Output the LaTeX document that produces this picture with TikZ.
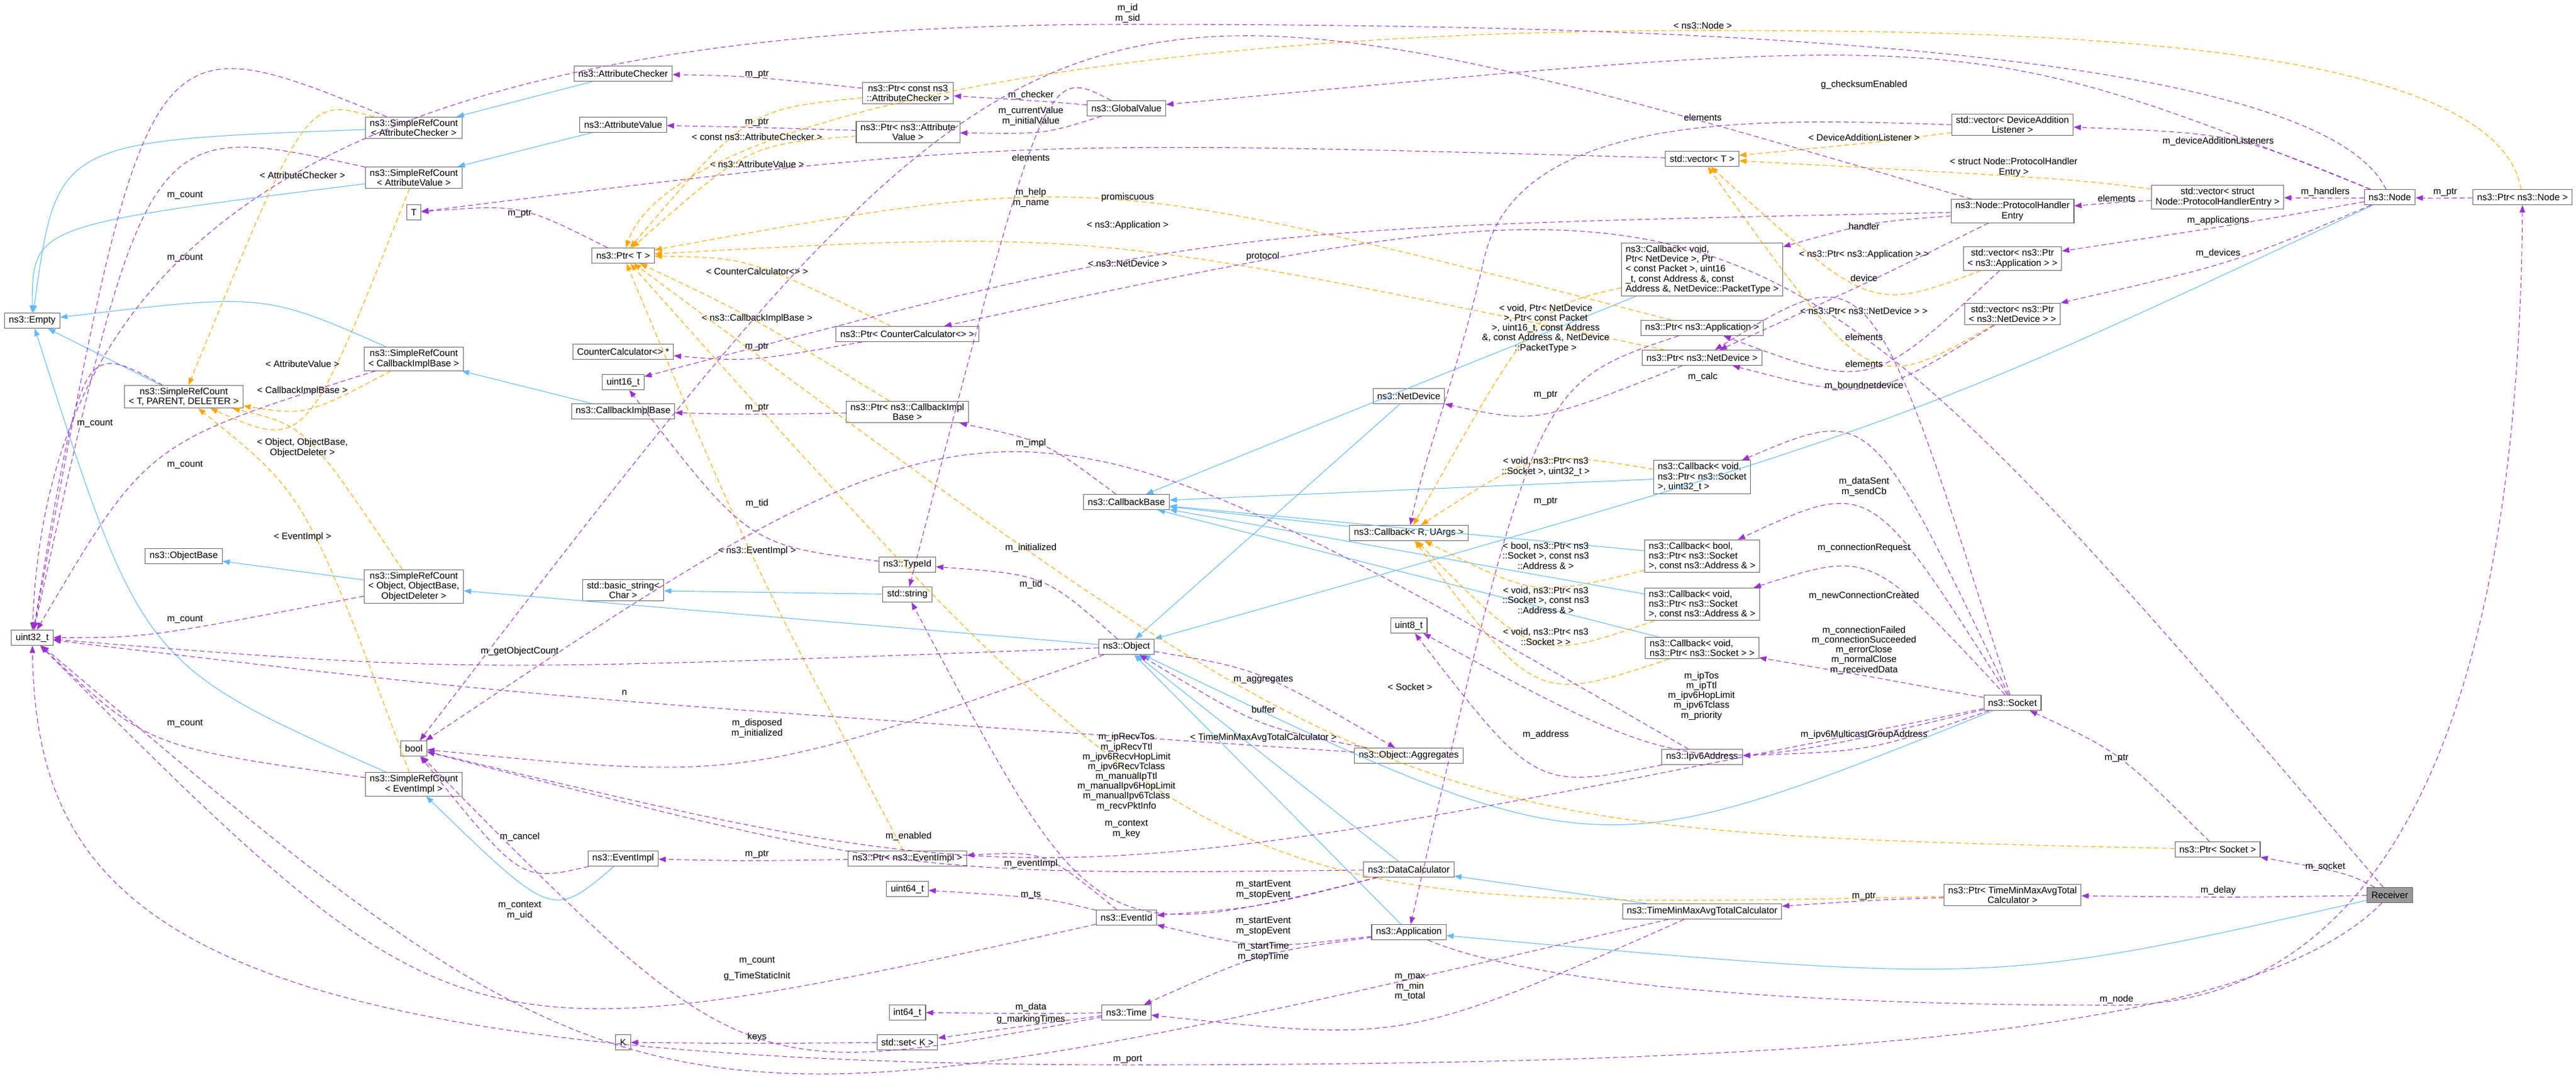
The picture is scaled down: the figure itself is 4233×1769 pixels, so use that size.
\documentclass[tikz,border=0pt]{standalone}
\usepackage{fontspec}
\setmainfont{Liberation Sans}
\usetikzlibrary{arrows.meta,calc}

\definecolor{inhblue}{HTML}{63B8FF}
\definecolor{usepurple}{HTML}{9A32CD}
\definecolor{tmplorange}{HTML}{FFA500}

\tikzset{
  cls/.style={draw=black!60,fill=white,line width=0.3pt,inner xsep=0.07cm,inner ysep=0.04cm,
    minimum height=0.25cm,align=center,font=\fontsize{4.35}{4.6}\selectfont},
  clsl/.style={cls,align=left},
  lbl/.style={anchor=south,inner sep=0.6pt,align=center,font=\fontsize{4.35}{4.6}\selectfont},
  inh/.style={draw=inhblue,line width=0.3pt,-{Triangle[length=0.12cm,width=0.09cm]}},
  use/.style={draw=usepurple,line width=0.3pt,dash pattern=on 0.08cm off 0.05cm,
    -{Triangle[length=0.12cm,width=0.09cm]}},
  tmpl/.style={use,draw=tmplorange},
}
% edge passing through the label point
\newcommand{\relm}[6]{\draw[#1] (#2) .. controls ($2*(#4,#5)-0.5*(#2)-0.5*(#3)$) .. (#3);
  \node[lbl] at (#4,#5) {#6};}
\newcommand{\inhv}[4]{\draw[inh] (#1) .. controls ($2*(#3,#4)-0.5*(#1)-0.5*(#2)$) .. (#2);}

\begin{document}
\begin{tikzpicture}[x=0.01cm,y=-0.01cm]
  \useasboundingbox (0,0) rectangle (4233,1769);

  % column 1-2
  \node[cls] (empty) at (53,527) {ns3::Empty};
  \node[cls] (u32) at (53,1048) {uint32\_t};
  \node[cls] (srctpd) at (302,652) {ns3::SimpleRefCount\\< T, PARENT, DELETER >};
  \node[cls] (objbase) at (302,914) {ns3::ObjectBase};
  % column 3
  \node[cls] (srcac) at (680,210) {ns3::SimpleRefCount\\< AttributeChecker >};
  \node[cls] (srcav) at (680,292) {ns3::SimpleRefCount\\< AttributeValue >};
  \node[cls] (tt) at (680,349) {T};
  \node[cls] (srccib) at (680,590) {ns3::SimpleRefCount\\< CallbackImplBase >};
  \node[cls] (srcobj) at (680,964) {ns3::SimpleRefCount\\< Object, ObjectBase,\\ObjectDeleter >};
  \node[cls] (bool) at (680,1230) {bool};
  \node[cls] (srcei) at (680,1289) {ns3::SimpleRefCount\\< EventImpl >};
  % column 4
  \node[cls] (ac) at (1024,121) {ns3::AttributeChecker};
  \node[cls] (av) at (1024,205) {ns3::AttributeValue};
  \node[cls] (pt) at (1024,420) {ns3::Ptr< T >};
  \node[cls] (cc) at (1024,578) {CounterCalculator<> *};
  \node[cls] (u16) at (1024,628) {uint16\_t};
  \node[cls] (cib) at (1024,676) {ns3::CallbackImplBase};
  \node[cls] (bstr) at (1024,970) {std::basic\_string<\\Char >};
  \node[cls] (ei) at (1024,1411) {ns3::EventImpl};
  \node[cls] (kk) at (1024,1713) {K};
  % column 5
  \node[cls] (pac) at (1492,153) {ns3::Ptr< const ns3\\::AttributeChecker >};
  \node[cls] (pav) at (1492,217) {ns3::Ptr< ns3::Attribute\\Value >};
  \node[cls] (pcc) at (1491,549) {ns3::Ptr< CounterCalculator<> >};
  \node[cls] (pcib) at (1491,677) {ns3::Ptr< ns3::CallbackImpl\\Base >};
  \node[cls] (typeid) at (1491,928) {ns3::TypeId};
  \node[cls] (str) at (1491,977) {std::string};
  \node[cls] (pei) at (1491,1411) {ns3::Ptr< ns3::EventImpl >};
  \node[cls] (u64) at (1491,1461) {uint64\_t};
  \node[cls] (i64) at (1491,1664) {int64\_t};
  \node[cls] (set) at (1491,1713) {std::set< K >};
  % column 6
  \node[cls] (gv) at (1851,178) {ns3::GlobalValue};
  \node[cls] (cbase) at (1851,825) {ns3::CallbackBase};
  \node[cls] (obj) at (1851,1063) {ns3::Object};
  \node[cls] (evid) at (1851,1508) {ns3::EventId};
  \node[cls] (time) at (1851,1664) {ns3::Time};
  % column 7
  \node[cls] (nd) at (2315,651) {ns3::NetDevice};
  \node[cls] (cru) at (2315,876) {ns3::Callback< R, UArgs >};
  \node[cls] (u8) at (2315,1028) {uint8\_t};
  \node[cls] (agg) at (2315,1242) {ns3::Object::Aggregates};
  \node[cls] (dc) at (2315,1429) {ns3::DataCalculator};
  \node[cls] (app) at (2315,1532) {ns3::Application};
  % column 8
  \node[cls] (vt) at (2797,261) {std::vector< T >};
  \node[clsl] (cbnd) at (2797,443) {ns3::Callback< void,\\ Ptr< NetDevice >, Ptr\\< const Packet >, uint16\\\_t, const Address \&, const\\ Address \&, NetDevice::PacketType >};
  \node[cls] (papp) at (2797,539) {ns3::Ptr< ns3::Application >};
  \node[cls] (pnd) at (2797,588) {ns3::Ptr< ns3::NetDevice >};
  \node[clsl] (cbsu) at (2797,784) {ns3::Callback< void,\\ ns3::Ptr< ns3::Socket\\ >, uint32\_t >};
  \node[clsl] (cbbool) at (2797,914) {ns3::Callback< bool,\\ ns3::Ptr< ns3::Socket\\ >, const ns3::Address \& >};
  \node[clsl] (cbva) at (2797,993) {ns3::Callback< void,\\ ns3::Ptr< ns3::Socket\\ >, const ns3::Address \& >};
  \node[clsl] (cbvs) at (2797,1065) {ns3::Callback< void,\\ ns3::Ptr< ns3::Socket > >};
  \node[cls] (ipv6) at (2797,1244) {ns3::Ipv6Address};
  \node[cls] (tmm) at (2797,1498) {ns3::TimeMinMaxAvgTotalCalculator};
  % columns 9-12
  \node[cls] (vdal) at (3307,205) {std::vector< DeviceAddition\\Listener >};
  \node[cls] (phe) at (3307,347) {ns3::Node::ProtocolHandler\\Entry};
  \node[cls] (vpapp) at (3307,425) {std::vector< ns3::Ptr\\< ns3::Application > >};
  \node[cls] (vpnd) at (3307,516) {std::vector< ns3::Ptr\\< ns3::NetDevice > >};
  \node[cls] (socket) at (3307,1155) {ns3::Socket};
  \node[cls] (ptmm) at (3307,1471) {ns3::Ptr< TimeMinMaxAvgTotal\\Calculator >};
  \node[cls] (vphe) at (3644,324) {std::vector< struct\\ Node::ProtocolHandlerEntry >};
  \node[cls] (psock) at (3644,1396) {ns3::Ptr< Socket >};
  \node[cls] (node) at (3927,324) {ns3::Node};
  \node[cls,fill=black!40] (recv) at (3927,1471) {Receiver};
  \node[cls] (pnode) at (4145,324) {ns3::Ptr< ns3::Node >};

  % inheritance
  \inhv{srcac}{empty}{230}{300}
  \inhv{srcav}{empty}{210}{390}
  \inhv{srccib}{empty}{400}{520}
  \draw[inh] (srctpd) -- (empty);
  \inhv{srcei}{empty}{300}{1000}
  \draw[inh] (ac) -- (srcac);
  \draw[inh] (av) -- (srcav);
  \draw[inh] (cib) -- (srccib);
  \draw[inh] (srcobj) -- (objbase);
  \draw[inh] (obj) -- (srcobj);
  \draw[inh] (str) -- (bstr);
  \inhv{ei}{srcei}{880}{1430}
  \draw[inh] (nd) -- (obj);
  \draw[inh] (app) -- (obj);
  \draw[inh] (dc) -- (obj);
  \inhv{node}{obj}{3000}{700}
  \inhv{socket}{obj}{2600}{1270}
  \draw[inh] (tmm) -- (dc);
  \inhv{recv}{app}{3200}{1560}
  \draw[inh] (cbnd) -- (cbase);
  \draw[inh] (cru) -- (cbase);
  \draw[inh] (cbsu) -- (cbase);
  \draw[inh] (cbbool) -- (cbase);
  \draw[inh] (cbva) -- (cbase);
  \draw[inh] (cbvs) -- (cbase);

  % template instances
  \relm{tmpl}{srcac}{srctpd}{497}{296}{< AttributeChecker >}
  \relm{tmpl}{srcav}{srctpd}{497}{606}{< AttributeValue >}
  \relm{tmpl}{srccib}{srctpd}{497}{652}{< CallbackImplBase >}
  \relm{tmpl}{srcobj}{srctpd}{497}{754}{< Object, ObjectBase,\\ObjectDeleter >}
  \relm{tmpl}{srcei}{srctpd}{497}{892}{< EventImpl >}
  \relm{tmpl}{pac}{pt}{1244}{233}{< const ns3::AttributeChecker >}
  \relm{tmpl}{pav}{pt}{1244}{278}{< ns3::AttributeValue >}
  \relm{tmpl}{pcc}{pt}{1244}{454}{< CounterCalculator<> >}
  \relm{tmpl}{pcib}{pt}{1244}{533}{< ns3::CallbackImplBase >}
  \relm{tmpl}{pei}{pt}{1244}{915}{< ns3::EventImpl >}
  \draw[tmpl] (pnode) .. controls (4100,60) and (3300,50) .. (2798,50) .. controls (1800,50) and (1100,200) .. (pt);
  \node[lbl] at (2798,50) {< ns3::Node >};
  \relm{tmpl}{papp}{pt}{1853}{380}{< ns3::Application >}
  \relm{tmpl}{pnd}{pt}{1853}{441}{< ns3::NetDevice >}
  \relm{tmpl}{psock}{pt}{2317}{1137}{< Socket >}
  \relm{tmpl}{ptmm}{pt}{2076}{1222}{< TimeMinMaxAvgTotalCalculator >}
  \relm{tmpl}{vdal}{vt}{3063}{234}{< DeviceAdditionListener >}
  \relm{tmpl}{vphe}{vt}{3309}{293}{< struct Node::ProtocolHandler\\Entry >}
  \relm{tmpl}{vpapp}{vt}{3063}{428}{< ns3::Ptr< ns3::Application > >}
  \relm{tmpl}{vpnd}{vt}{3063}{519}{< ns3::Ptr< ns3::NetDevice > >}
  \relm{tmpl}{cbnd}{cru}{2540}{582}{< void, Ptr< NetDevice\\>, Ptr< const Packet\\>, uint16\_t, const Address\\\&, const Address \&, NetDevice\\::PacketType >}
  \relm{tmpl}{cbsu}{cru}{2540}{785}{< void, ns3::Ptr< ns3\\::Socket >, uint32\_t >}
  \relm{tmpl}{cbbool}{cru}{2540}{938}{< bool, ns3::Ptr< ns3\\::Socket >, const ns3\\::Address \& >}
  \relm{tmpl}{cbva}{cru}{2540}{1011}{< void, ns3::Ptr< ns3\\::Socket >, const ns3\\::Address \& >}
  \relm{tmpl}{cbvs}{cru}{2540}{1063}{< void, ns3::Ptr< ns3\\::Socket > >}

  % members
  \relm{use}{srcac}{u32}{304}{330}{m\_count}
  \relm{use}{srcav}{u32}{304}{433}{m\_count}
  \relm{use}{srctpd}{u32}{156}{705}{m\_count}
  \relm{use}{srccib}{u32}{304}{773}{m\_count}
  \relm{use}{srcobj}{u32}{304}{1027}{m\_count}
  \relm{use}{srcei}{u32}{304}{1198}{m\_count}
  \relm{use}{pac}{ac}{1244}{131}{m\_ptr}
  \relm{use}{pav}{av}{1244}{210}{m\_ptr}
  \relm{use}{pt}{tt}{854}{360}{m\_ptr}
  \relm{use}{pcc}{cc}{1244}{579}{m\_ptr}
  \relm{use}{pcib}{cib}{1244}{679}{m\_ptr}
  \relm{use}{pei}{ei}{1244}{1413}{m\_ptr}
  \relm{use}{ei}{bool}{854}{1385}{m\_cancel}
  \relm{use}{gv}{pac}{1694}{166}{m\_checker}
  \relm{use}{gv}{pav}{1694}{209}{m\_currentValue\\m\_initialValue}
  \relm{use}{gv}{str}{1694}{343}{m\_help\\m\_name}
  \draw[use] (node) .. controls (3800,60) and (2600,40) .. (1853,40) .. controls (700,40) and (80,300) .. (u32);
  \node[lbl] at (1853,40) {m\_id\\m\_sid};
  \relm{use}{node}{gv}{3063}{149}{g\_checksumEnabled}
  \draw[use] (vdal.west) .. controls (2900,195) and (2500,180) .. (2440,420) .. controls (2400,600) and (2340,750) .. (cru);
  \node[lbl] at (2798,201) {elements};
  \relm{use}{vt}{tt}{1694}{267}{elements}
  \relm{use}{phe}{bool}{1853}{334}{promiscuous}
  \relm{use}{phe}{cbnd}{3063}{380}{handler}
  \relm{use}{phe}{pnd}{3063}{465}{device}
  \relm{use}{phe}{u16}{2075}{431}{protocol}
  \relm{use}{vphe}{phe}{3478}{334}{elements}
  \relm{use}{node}{vphe}{3821}{325}{m\_handlers}
  \relm{use}{node}{vdal}{3645}{242}{m\_deviceAdditionListeners}
  \relm{use}{node}{vpapp}{3645}{372}{m\_applications}
  \relm{use}{node}{vpnd}{3645}{426}{m\_devices}
  \relm{use}{vpapp}{papp}{3063}{562}{elements}
  \relm{use}{vpnd}{pnd}{3063}{606}{elements}
  \relm{use}{pnode}{node}{4018}{325}{m\_ptr}
  \relm{use}{papp}{app}{2540}{833}{m\_ptr}
  \relm{use}{pnd}{nd}{2540}{658}{m\_ptr}
  \relm{use}{cbase}{pcib}{1694}{738}{m\_impl}
  \relm{use}{obj}{typeid}{1694}{970}{m\_tid}
  \relm{use}{obj}{bool}{1244}{1215}{m\_disposed\\m\_initialized}
  \relm{use}{obj}{u32}{854}{1080}{m\_getObjectCount}
  \relm{use}{obj}{agg}{2076}{1126}{m\_aggregates}
  \relm{use}{agg}{obj}{2076}{1174}{buffer}
  \relm{use}{agg}{u32}{1026}{1145}{n}
  \relm{use}{app}{evid}{2076}{1540}{m\_startEvent\\m\_stopEvent}
  \relm{use}{app}{time}{2076}{1582}{m\_startTime\\m\_stopTime}
  \draw[use] (app) .. controls (2600,1650) and (3300,1652) .. (3478,1652) .. controls (4000,1652) and (4140,1000) .. (pnode);
  \node[lbl] at (3478,1652) {m\_node};
  \relm{use}{dc}{bool}{1493}{1384}{m\_enabled}
  \relm{use}{dc}{str}{1851}{1380}{m\_context\\m\_key}
  \relm{use}{dc}{evid}{2076}{1480}{m\_startEvent\\m\_stopEvent}
  \relm{use}{evid}{pei}{1694}{1429}{m\_eventImpl}
  \relm{use}{evid}{u64}{1694}{1480}{m\_ts}
  \relm{use}{evid}{u32}{854}{1514}{m\_context\\m\_uid}
  \relm{use}{time}{i64}{1694}{1665}{m\_data}
  \relm{use}{time}{set}{1694}{1685}{g\_markingTimes}
  \relm{use}{time}{bool}{1244}{1614}{g\_TimeStaticInit}
  \relm{use}{tmm}{u32}{1244}{1588}{m\_count}
  \relm{use}{tmm}{time}{2317}{1647}{m\_max\\m\_min\\m\_total}
  \relm{use}{set}{kk}{1244}{1714}{keys}
  \relm{use}{socket}{cbsu}{3063}{818}{m\_dataSent\\m\_sendCb}
  \relm{use}{socket}{cbbool}{3063}{910}{m\_connectionRequest}
  \relm{use}{socket}{cbva}{3063}{989}{m\_newConnectionCreated}
  \relm{use}{socket}{cbvs}{3063}{1111}{m\_connectionFailed\\m\_connectionSucceeded\\m\_errorClose\\m\_normalClose\\m\_receivedData}
  \relm{use}{socket}{u8}{2796}{1186}{m\_ipTos\\m\_ipTtl\\m\_ipv6HopLimit\\m\_ipv6Tclass\\m\_priority}
  \relm{use}{socket}{ipv6}{3063}{1217}{m\_ipv6MulticastGroupAddress}
  \relm{use}{socket}{pnd}{3063}{644}{m\_boundnetdevice}
  \relm{use}{socket}{bool}{1851}{1335}{m\_ipRecvTos\\m\_ipRecvTtl\\m\_ipv6RecvHopLimit\\m\_ipv6RecvTclass\\m\_manualIpTtl\\m\_manualIpv6HopLimit\\m\_manualIpv6Tclass\\m\_recvPktInfo}
  \relm{use}{ipv6}{u8}{2540}{1217}{m\_address}
  \relm{use}{ipv6}{bool}{1694}{910}{m\_initialized}
  \relm{use}{psock}{socket}{3478}{1255}{m\_ptr}
  \relm{use}{recv}{psock}{3821}{1434}{m\_socket}
  \relm{use}{recv}{ptmm}{3645}{1473}{m\_delay}
  \relm{use}{recv}{pcc}{2798}{629}{m\_calc}
  \draw[use] (recv) .. controls (3700,1700) and (3000,1750) .. (1853,1750) .. controls (300,1750) and (60,1500) .. (u32);
  \node[lbl] at (1853,1750) {m\_port};
  \relm{use}{ptmm}{tmm}{3063}{1482}{m\_ptr}
  \relm{use}{typeid}{u16}{1244}{837}{m\_tid}
\end{tikzpicture}
\end{document}
